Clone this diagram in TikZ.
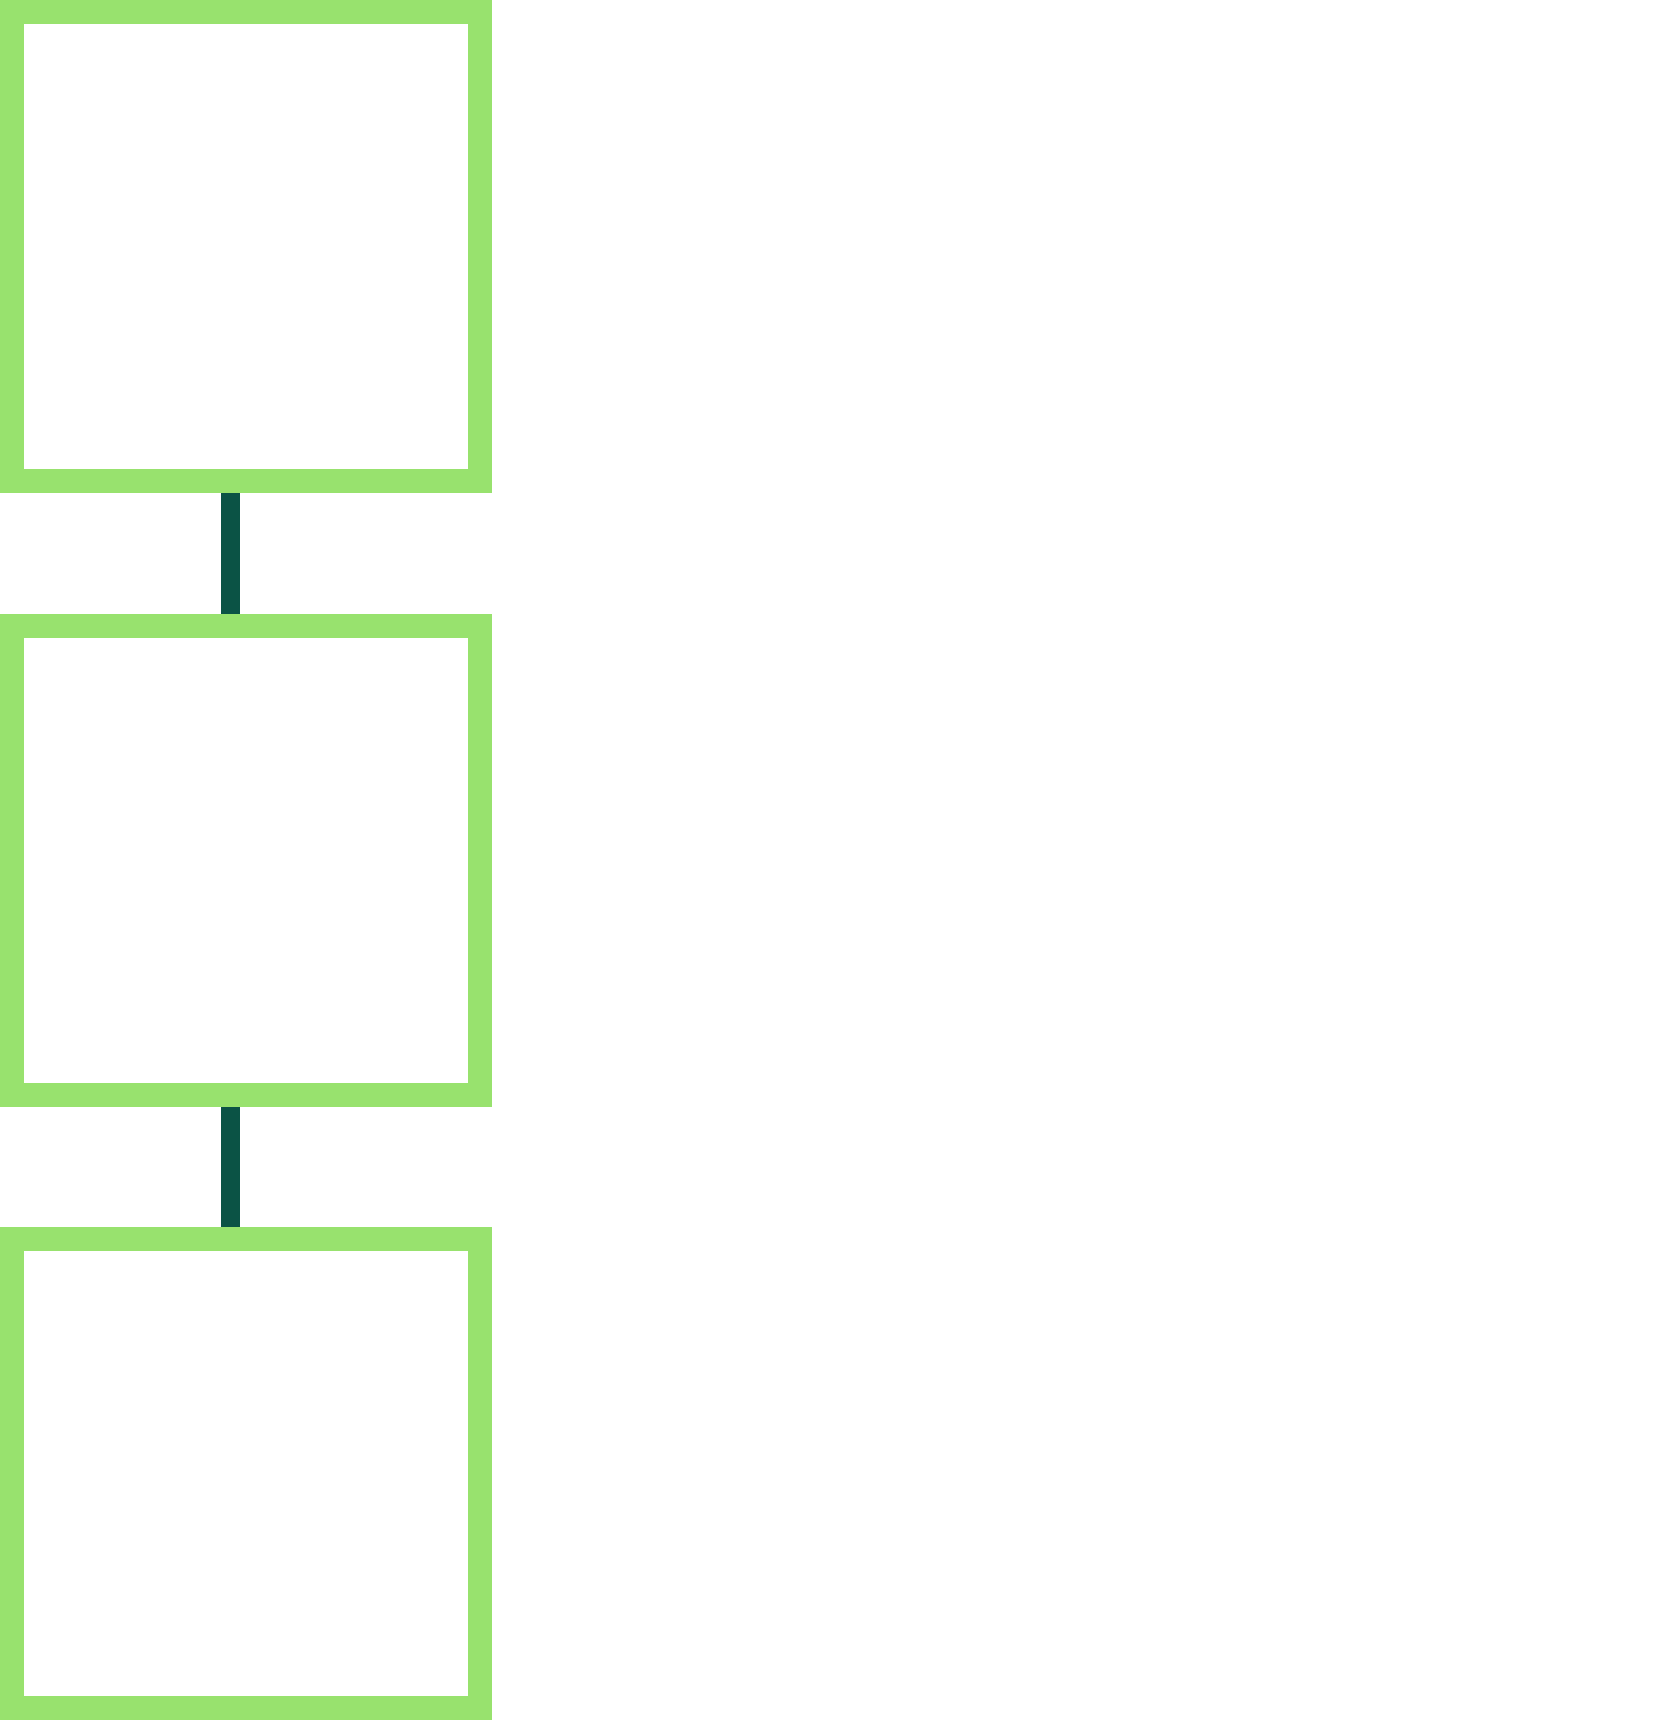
\documentclass[tikz,border=0pt]{standalone}
\definecolor{boxgreen}{RGB}{152,226,110}
\definecolor{linkgreen}{RGB}{11,83,69}
\begin{document}
\begin{tikzpicture}[x=1pt,y=-1pt,
  stage/.style={draw=boxgreen, line width=24pt, fill=white, rectangle,
    minimum width=468pt, minimum height=469pt, inner sep=0pt},
  link/.style={draw=linkgreen, line width=19pt}]
\fill[white] (0,0) rectangle (1666,1720);
\useasboundingbox (0,0) rectangle (1666,1720);
\node[stage] (b1) at (246,246.5) {};
\node[stage] (b2) at (246,860.5) {};
\node[stage] (b3) at (246,1473.5) {};
\draw[link] ([xshift=-15.5pt]b1.south) -- ([xshift=-15.5pt]b2.north);
\draw[link] ([xshift=-15.5pt]b2.south) -- ([xshift=-15.5pt]b3.north);
\end{tikzpicture}
\end{document}
